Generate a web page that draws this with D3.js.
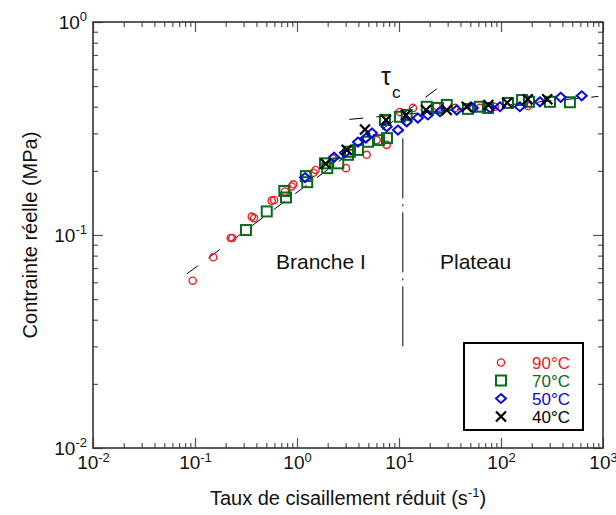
<!DOCTYPE html>
<html>
<head>
<meta charset="utf-8">
<script src="https://cdn.jsdelivr.net/npm/d3@7"></script>
<style>
  body { margin: 0; background: #fff; }
  svg { font-family: "Liberation Sans", Arial, sans-serif; }
</style>
</head>
<body>
<div id="chart"></div>
<script>
// values (shear rate s-1, stress MPa)
const rate90 = [0.095, 0.151, 0.224, 0.232, 0.36, 0.379, 0.565, 0.596, 0.762, 0.887, 0.92, 1.45, 1.52, 2.24, 3.02, 4.82, 6.04, 7.57, 10.2, 11.9, 13.7, 23.4, 35.5, 62, 87, 184];
const stress90 = [0.061, 0.0786, 0.0968, 0.0968, 0.122, 0.12, 0.145, 0.146, 0.16, 0.169, 0.173, 0.196, 0.202, 0.229, 0.206, 0.238, 0.279, 0.265, 0.378, 0.34, 0.395, 0.403, 0.395, 0.395, 0.40, 0.403];

const rate70 = [0.316, 0.505, 0.751, 0.78, 1.22, 1.26, 1.88, 1.98, 2.54, 3.16, 3.31, 3.96, 4.97, 6.37, 7.29, 7.62, 10.2, 11.9, 18.7, 24.1, 29.4, 47.4, 62.2, 74.6, 117, 161, 188, 302, 474];
const stress70 = [0.1055, 0.129, 0.161, 0.150, 0.189, 0.177, 0.217, 0.206, 0.217, 0.238, 0.246, 0.251, 0.274, 0.279, 0.347, 0.285, 0.359, 0.366, 0.40, 0.395, 0.408, 0.391, 0.40, 0.395, 0.417, 0.43, 0.422, 0.422, 0.42];

const rate50 = [1.2, 2.31, 2.95, 3.96, 4.74, 5.43, 7.57, 9.77, 11.9, 15.3, 19.2, 25.2, 36.8, 53, 78, 97.7, 153, 241, 385, 618];
const stress50 = [0.186, 0.232, 0.243, 0.273, 0.285, 0.301, 0.322, 0.311, 0.34, 0.354, 0.366, 0.379, 0.386, 0.395, 0.395, 0.40, 0.40, 0.422, 0.443, 0.45];

const rate40 = [1.91, 3.07, 4.64, 7.46, 11.7, 18.4, 29.4, 46.1, 75.2, 115, 183, 284];
const stress40 = [0.216, 0.251, 0.313, 0.347, 0.366, 0.386, 0.386, 0.40, 0.408, 0.418, 0.434, 0.434];

// guide lines
const branchX = [0.083, 24.1];
const branchY = [0.0656, 0.49];
const plateauX = [3.26, 900];
const plateauY = [0.349, 0.447];
const tauX = [10.9, 10.9];
const tauY = [0.03, 0.31];

const legendLabels = ["90°C", "70°C", "50°C", "40°C"];
const xMajor = [1e-2, 1e-1, 1, 10, 100, 1000];
const yMajor = [1e-2, 1e-1, 1];

const width = 616;
const height = 515;

const svg = d3.select("#chart")
    .append("svg")
    .attr("width", width)
    .attr("height", height);

const margin = { top: 22, left: 93, right: 13, bottom: 67 };

const xScale = d3.scaleLog()
    .domain([1e-2, 1e3])
    .range([margin.left, width - margin.right]);

const yScale = d3.scaleLog()
    .domain([1e-2, 1])
    .range([height - margin.bottom, margin.top]);

function minors(lo, hi) {
    const out = [];
    for (let e = lo; e < hi; e++) {
        for (let k = 2; k <= 9; k++) out.push(k * Math.pow(10, e));
    }
    return out;
}
const xMinor = minors(-2, 3);
const yMinor = minors(-2, 0);

function powLabel(sel) {
    sel.each(function(d) {
        const t = d3.select(this);
        const e = Math.round(Math.log10(d));
        t.text(null);
        t.append("tspan").text("10");
        t.append("tspan").attr("dy", "-0.55em").attr("font-size", "13px").text(e);
    });
}

const x0 = margin.left, x1 = width - margin.right;
const y0 = height - margin.bottom, y1 = margin.top;

function styleAxis(g) {
    g.select(".domain").remove();
    g.selectAll(".tick line").attr("stroke", "#555").attr("stroke-width", 1.2);
}

// bottom
svg.append("g")
    .attr("transform", `translate(0,${y0})`)
    .call(d3.axisBottom(xScale).tickValues(xMajor).tickSize(-10).tickPadding(8))
    .call(styleAxis)
    .call(g => g.selectAll(".tick text").attr("font-size", "19px").attr("fill", "#111").call(powLabel));
svg.append("g")
    .attr("transform", `translate(0,${y0})`)
    .call(d3.axisBottom(xScale).tickValues(xMinor).tickSize(-5).tickFormat(""))
    .call(styleAxis);
// top
svg.append("g")
    .attr("transform", `translate(0,${y1})`)
    .call(d3.axisTop(xScale).tickValues(xMajor).tickSize(-10).tickFormat(""))
    .call(styleAxis);
svg.append("g")
    .attr("transform", `translate(0,${y1})`)
    .call(d3.axisTop(xScale).tickValues(xMinor).tickSize(-5).tickFormat(""))
    .call(styleAxis);
// left
svg.append("g")
    .attr("transform", `translate(${x0},0)`)
    .call(d3.axisLeft(yScale).tickValues(yMajor).tickSize(-10).tickPadding(6))
    .call(styleAxis)
    .call(g => g.selectAll(".tick text").attr("font-size", "19px").attr("fill", "#111").call(powLabel));
svg.append("g")
    .attr("transform", `translate(${x0},0)`)
    .call(d3.axisLeft(yScale).tickValues(yMinor).tickSize(-5).tickFormat(""))
    .call(styleAxis);
// right
svg.append("g")
    .attr("transform", `translate(${x1},0)`)
    .call(d3.axisRight(yScale).tickValues(yMajor).tickSize(-10).tickFormat(""))
    .call(styleAxis);
svg.append("g")
    .attr("transform", `translate(${x1},0)`)
    .call(d3.axisRight(yScale).tickValues(yMinor).tickSize(-5).tickFormat(""))
    .call(styleAxis);

// frame
svg.append("rect")
    .attr("x", x0).attr("y", y1)
    .attr("width", x1 - x0).attr("height", y0 - y1)
    .attr("fill", "none")
    .attr("stroke", "#333")
    .attr("stroke-width", 1.6);

// guide lines
const line = d3.line().x(d => xScale(d[0])).y(d => yScale(d[1]));

svg.append("path")
    .attr("d", line(d3.zip(branchX, branchY)))
    .attr("fill", "none").attr("stroke", "#000").attr("stroke-width", 1)
    .attr("stroke-dasharray", "14,13");
svg.append("path")
    .attr("d", line(d3.zip(plateauX, plateauY)))
    .attr("fill", "none").attr("stroke", "#000").attr("stroke-width", 1)
    .attr("stroke-dasharray", "14,13");
svg.append("path")
    .attr("d", line(d3.zip(tauX, tauY)))
    .attr("fill", "none").attr("stroke", "#000").attr("stroke-width", 1)
    .attr("stroke-dasharray", "60,6,2,6");

// markers
const red = "#ee1c24", green = "#0b6a1c", blue = "#0a0ae0", black = "#000";

function drawCircle(g, cx, cy) {
    g.append("circle").attr("cx", cx).attr("cy", cy).attr("r", 3.6)
        .attr("fill", "none").attr("stroke", red).attr("stroke-width", 1.4);
}
function drawSquare(g, cx, cy) {
    g.append("rect").attr("x", cx - 5).attr("y", cy - 5).attr("width", 10).attr("height", 10)
        .attr("fill", "none").attr("stroke", green).attr("stroke-width", 2);
}
function drawDiamond(g, cx, cy) {
    g.append("path").attr("d", `M${cx},${cy - 4.5}L${cx + 5},${cy}L${cx},${cy + 4.5}L${cx - 5},${cy}Z`)
        .attr("fill", "none").attr("stroke", blue).attr("stroke-width", 2);
}
function drawCross(g, cx, cy) {
    g.append("path").attr("d", `M${cx - 5},${cy - 5}L${cx + 5},${cy + 5}M${cx - 5},${cy + 5}L${cx + 5},${cy - 5}`)
        .attr("fill", "none").attr("stroke", black).attr("stroke-width", 2.2);
}

const series = [
    { xs: rate90, ys: stress90, draw: drawCircle },
    { xs: rate70, ys: stress70, draw: drawSquare },
    { xs: rate50, ys: stress50, draw: drawDiamond },
    { xs: rate40, ys: stress40, draw: drawCross }
];

series.forEach(s => {
    const g = svg.append("g");
    s.xs.forEach((v, i) => s.draw(g, xScale(v), yScale(s.ys[i])));
});

// annotations
svg.append("text").attr("x", 276).attr("y", 269).attr("font-size", "21px").attr("fill", "#111").text("Branche I");
svg.append("text").attr("x", 440).attr("y", 269).attr("font-size", "21px").attr("fill", "#111").text("Plateau");
svg.append("text").attr("x", 381).attr("y", 85).attr("font-size", "25px").attr("fill", "#111").text("τ");
svg.append("text").attr("x", 392).attr("y", 98).attr("font-size", "17px").attr("fill", "#111").text("c");

// axis titles
const xTitle = svg.append("text")
    .attr("x", (x0 + x1) / 2).attr("y", 505)
    .attr("text-anchor", "middle").attr("font-size", "20px").attr("fill", "#111");
xTitle.append("tspan").text("Taux de cisaillement réduit (s");
xTitle.append("tspan").attr("dy", "-0.6em").attr("font-size", "13px").text("-1");
xTitle.append("tspan").attr("dy", "0.39em").text(")");

svg.append("text")
    .attr("transform", `translate(37,${(y0 + y1) / 2}) rotate(-90)`)
    .attr("text-anchor", "middle").attr("font-size", "20px").attr("fill", "#111")
    .text("Contrainte réelle (MPa)");

// legend
const legend = svg.append("g");
legend.append("rect")
    .attr("x", 464).attr("y", 343).attr("width", 119).attr("height", 87)
    .attr("fill", "#fff").attr("stroke", "#000").attr("stroke-width", 2);
const legendColors = [red, green, blue, black];
legendLabels.forEach((lab, i) => {
    const cy = 362.5 + i * 18;
    series[i].draw(legend, 501, cy);
    legend.append("text")
        .attr("x", 532).attr("y", cy + 6)
        .attr("font-size", "17px").attr("fill", legendColors[i])
        .text(lab);
});
</script>
</body>
</html>
